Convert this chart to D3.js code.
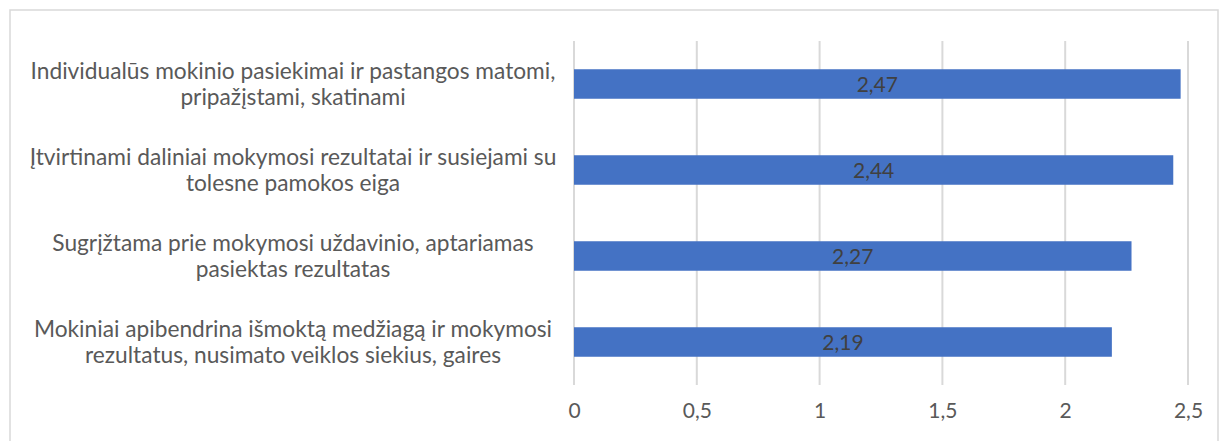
<!DOCTYPE html>
<html><head><meta charset="utf-8">
<script src="https://cdn.jsdelivr.net/npm/d3@7"></script>
<style>
html,body{margin:0;padding:0;background:#fff;}
svg{display:block;}
</style></head>
<body>
<svg id="c" width="1220" height="441"></svg>
<script>
const categories = [
  "Individualūs mokinio pasiekimai ir pastangos matomi,\npripažįstami, skatinami",
  "Įtvirtinami daliniai mokymosi rezultatai ir susiejami su\ntolesne pamokos eiga",
  "Sugrįžtama prie mokymosi uždavinio, aptariamas\npasiektas rezultatas",
  "Mokiniai apibendrina išmoktą medžiagą ir mokymosi\nrezultatus, nusimato veiklos siekius, gaires"
];
const values = [2.47, 2.44, 2.27, 2.19];
const tickValues = [0, 0.5, 1, 1.5, 2, 2.5];

const fmt = v => String(v).replace(".", ",");
const font = "Lato, 'Open Sans', sans-serif";

const svg = d3.select("#c");
svg.append("rect").attr("x", 10).attr("y", 10).attr("width", 1208).attr("height", 440)
  .attr("fill", "#fff").attr("stroke", "#d9d9d9").attr("stroke-width", 1.5);

const x = d3.scaleLinear().domain([0, 2.5]).range([574, 1188]);
const y = d3.scaleBand().domain(categories).range([41, 385]).paddingInner(0.657).paddingOuter(0.3285);

// gridlines
svg.append("g").selectAll("line").data(tickValues).join("line")
  .attr("x1", d => x(d)).attr("x2", d => x(d)).attr("y1", 41).attr("y2", 385)
  .attr("stroke", "#d9d9d9").attr("stroke-width", 2);

// x axis labels via d3 axis
const xAxis = d3.axisBottom(x).tickValues(tickValues).tickFormat(fmt).tickSize(0).tickPadding(0);
const gx = svg.append("g").attr("transform", "translate(0,403)").call(xAxis);
gx.select(".domain").remove();
gx.selectAll("text").attr("fill", "#595959").style("font-family", font).style("font-size", "21px");

// bars
svg.append("g").selectAll("rect").data(values).join("rect")
  .attr("x", x(0)).attr("y", (d, i) => y(categories[i]))
  .attr("width", d => x(d) - x(0)).attr("height", y.bandwidth())
  .attr("fill", "#4472c4");

// value labels
svg.append("g").selectAll("text").data(values).join("text")
  .attr("x", d => (x(0) + x(d)) / 2)
  .attr("y", (d, i) => y(categories[i]) + y.bandwidth() / 2)
  .attr("dy", "0.36em").attr("text-anchor", "middle")
  .attr("fill", "#404040").style("font-family", font).style("font-size", "21px")
  .text(d => fmt(d));

// category labels
const lg = svg.append("g");
categories.forEach((c, i) => {
  const lines = c.split("\n");
  const cy = y(c) + y.bandwidth() / 2;
  const t = lg.append("text").attr("text-anchor", "middle")
    .attr("fill", "#595959").style("font-family", font).style("font-size", "18px");
  lines.forEach((ln, j) => {
    t.append("tspan").attr("x", 293).attr("y", cy + (j - (lines.length - 1) / 2) * 26)
      .attr("dy", "0.36em").text(ln);
  });
});
// fit first label line width to reference (~525px)
const first = lg.select("text tspan").node();
const w = first.getComputedTextLength();
const fs = 18 * 525 / w;
lg.selectAll("text").style("font-size", fs + "px");
</script>
</body></html>
